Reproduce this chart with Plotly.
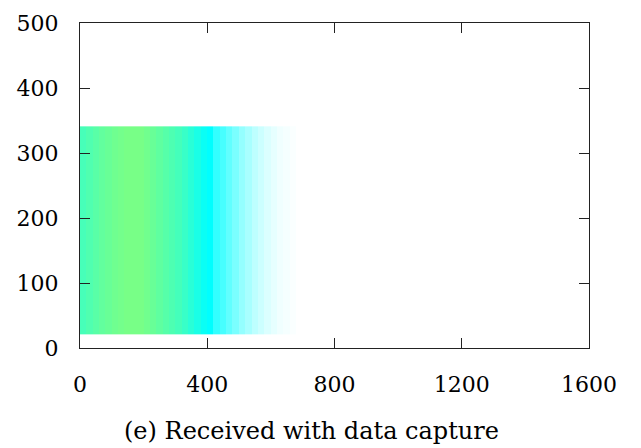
import plotly.graph_objects as go

# x bin edges (packet index) and intensity per bin
x_edges = list(range(0, 700, 20))
intensity = [0.78, 0.82, 0.86, 0.90, 0.93, 0.96, 0.98, 1.0, 1.0, 1.0,
             0.97, 0.93, 0.89, 0.85, 0.81, 0.77, 0.72, 0.66, 0.60, 0.54,
             0.50, 0.40, 0.36, 0.31, 0.26, 0.21, 0.17, 0.13, 0.10, 0.07,
             0.05, 0.03, 0.02, 0.01]
y_edges = [21, 341]

x_ticks = [0, 400, 800, 1200, 1600]
y_ticks = [0, 100, 200, 300, 400, 500]
caption = "(e) Received with data capture"

colorscale = [
    [0.0, "rgb(255,255,255)"],
    [0.5, "rgb(0,255,255)"],
    [0.75, "rgb(64,255,192)"],
    [1.0, "rgb(120,255,135)"],
]

fig = go.Figure()
fig.add_trace(go.Heatmap(
    x=x_edges, y=y_edges, z=[intensity],
    colorscale=colorscale, zmin=0, zmax=1, showscale=False,
    hoverinfo="skip",
))

font = dict(family="DejaVu Serif", size=22, color="black")
cap_font = dict(family="DejaVu Serif", size=24, color="black")
axis_common = dict(
    showgrid=False, zeroline=False, showline=True, linecolor="#222",
    linewidth=1.3, mirror="ticks", ticks="inside", ticklen=10,
    tickwidth=1.3, tickcolor="#222", tickfont=font, automargin=False,
)
fig.update_xaxes(range=[0, 1600], tickvals=x_ticks,
                 ticktext=[str(v) for v in x_ticks], ticklabelstandoff=16,
                 **axis_common)
fig.update_yaxes(range=[0, 500], tickvals=y_ticks,
                 ticktext=[str(v) for v in y_ticks], ticklabelstandoff=16,
                 **axis_common)

fig.add_annotation(text=caption, xref="paper", yref="paper",
                   x=0.455, y=-0.255, showarrow=False, font=cap_font,
                   xanchor="center", yanchor="middle")

fig.update_layout(
    width=633, height=440,
    margin=dict(l=72, r=52, t=15, b=100),
    plot_bgcolor="white", paper_bgcolor="white",
    showlegend=False,
)
fig.write_html("out.html")
